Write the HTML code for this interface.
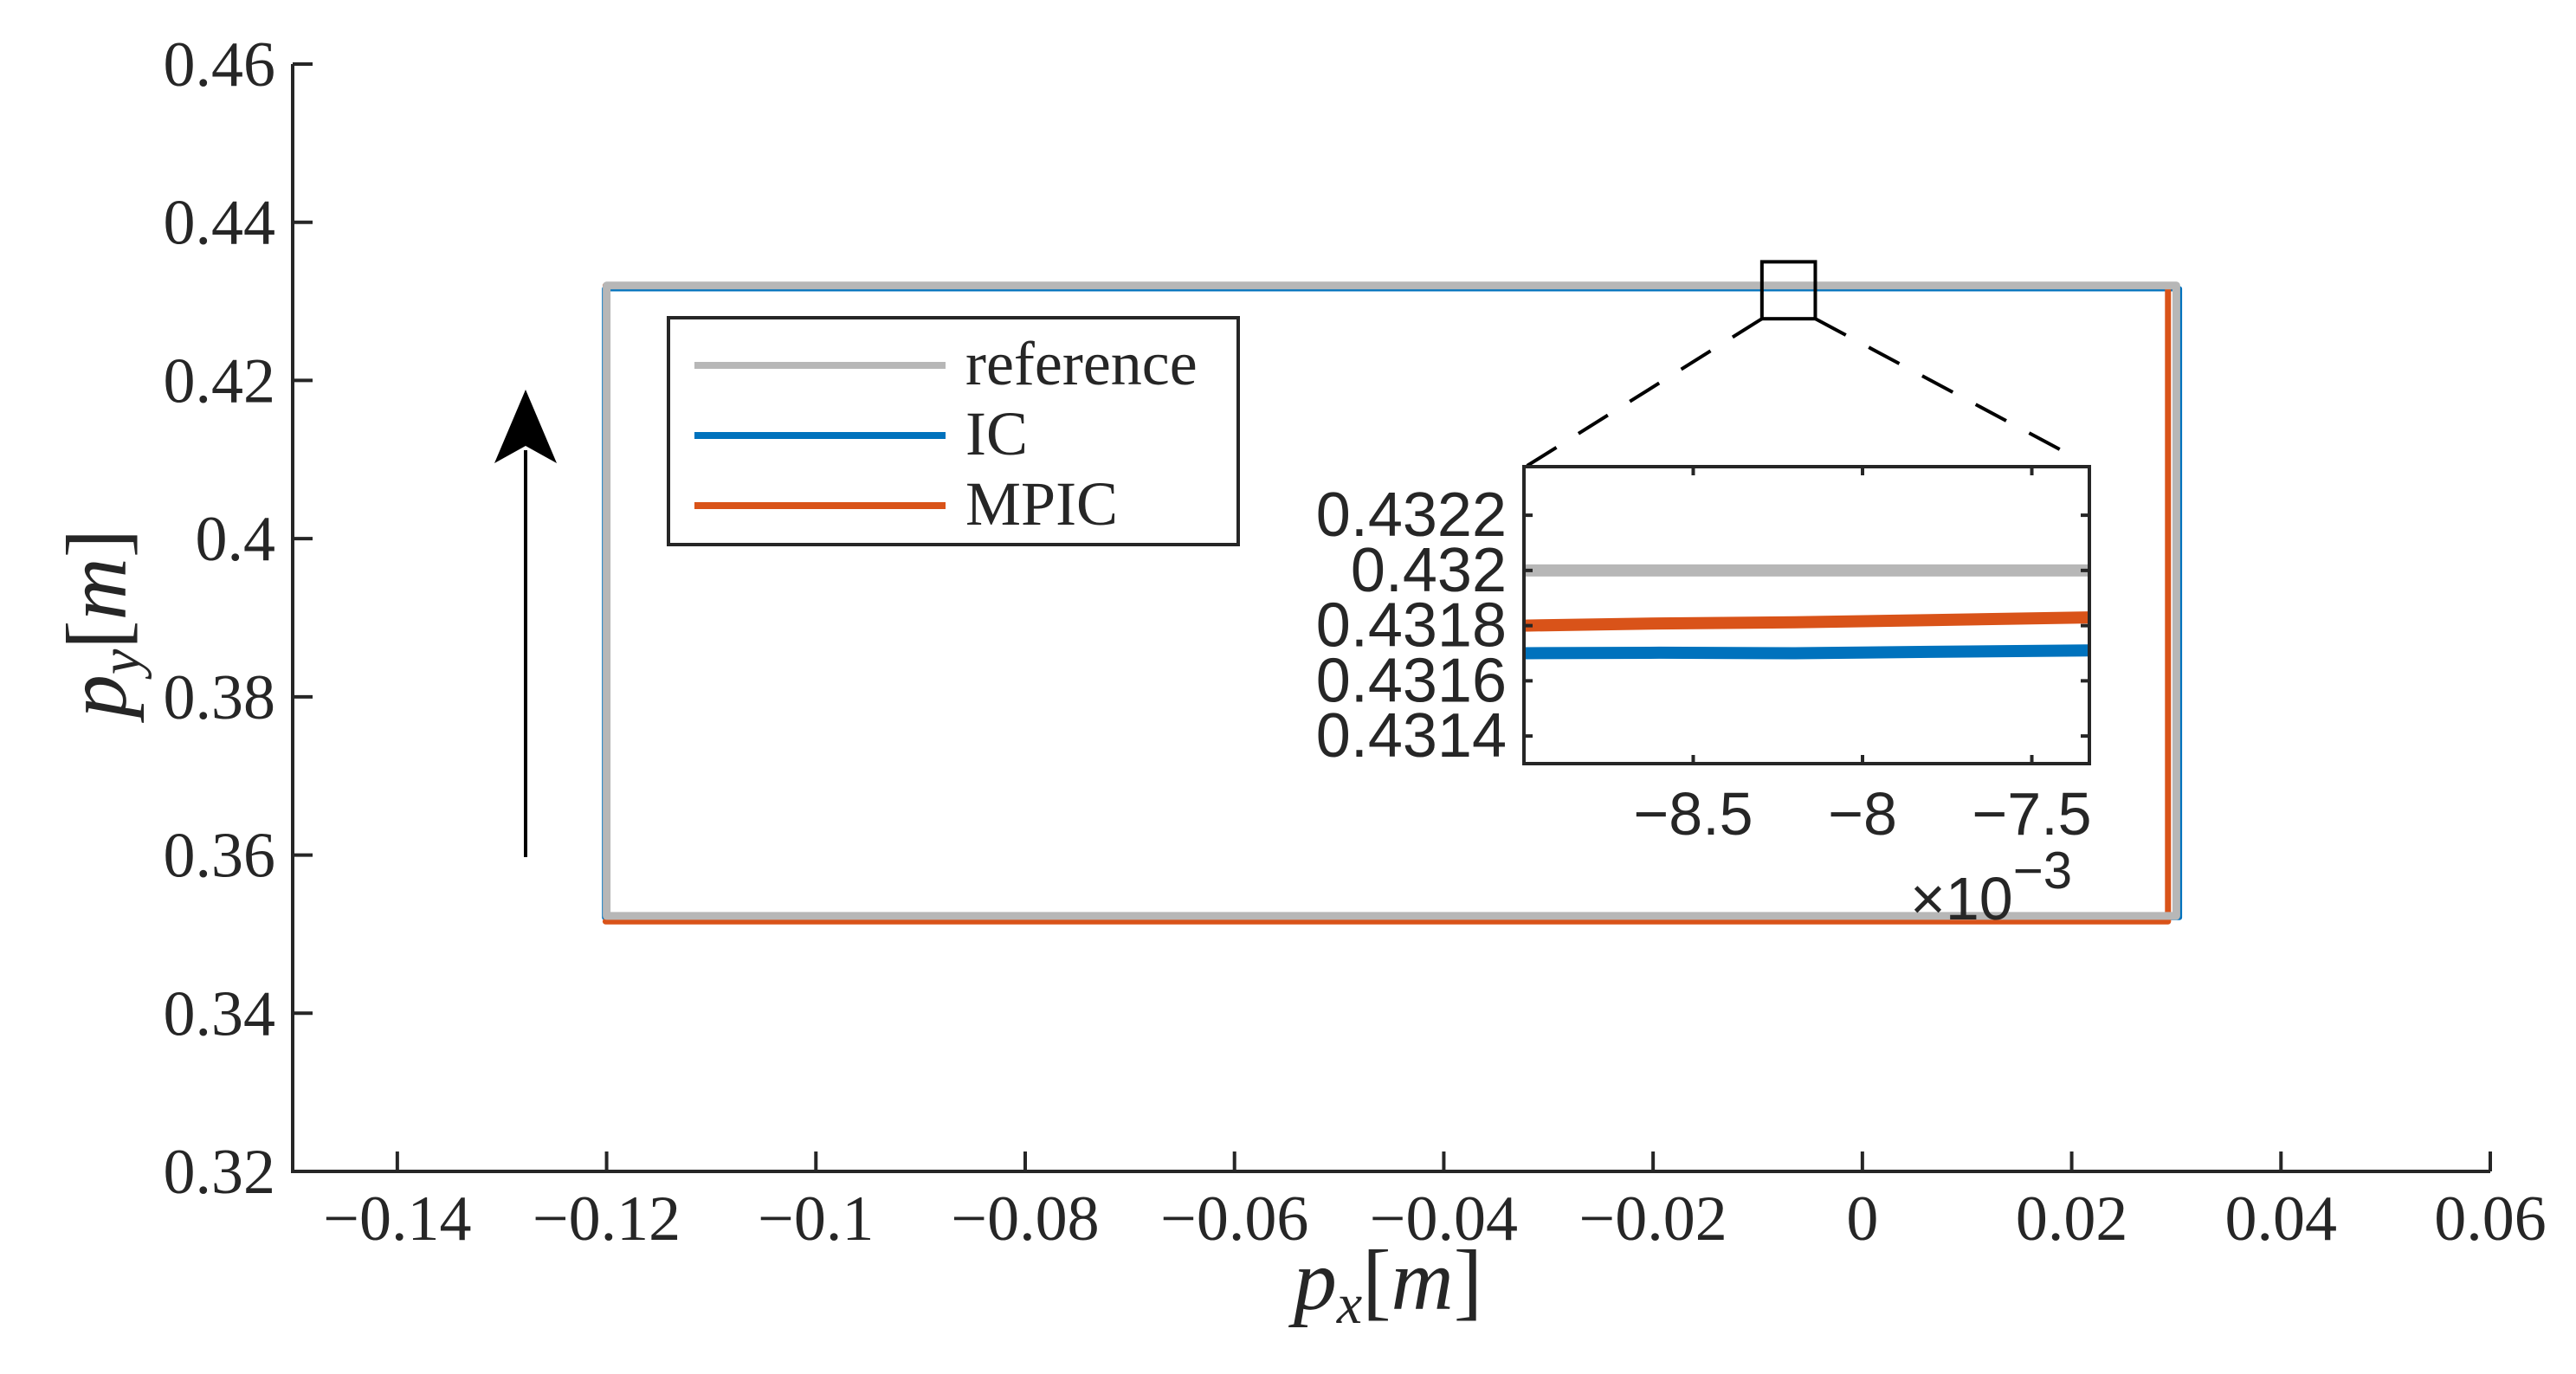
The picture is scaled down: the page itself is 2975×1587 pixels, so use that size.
<!DOCTYPE html>
<html><head><meta charset="utf-8"><style>
html,body{margin:0;padding:0;background:#fff;}
svg{display:block;}
text{fill:#262626;}
</style></head><body>
<svg id="chart" width="2975" height="1587" viewBox="0 0 2975 1587" xmlns="http://www.w3.org/2000/svg">
<defs><clipPath id="insetClip"><rect x="1760" y="539" width="653" height="343"/></clipPath></defs>
<g id="main"></g>
<g id="inset"></g>
</svg>
<script>
// ---- main chart data ----
const xTicks = [-0.14,-0.12,-0.1,-0.08,-0.06,-0.04,-0.02,0,0.02,0.04,0.06];
const xTickLabels = ["\u22120.14","\u22120.12","\u22120.1","\u22120.08","\u22120.06","\u22120.04","\u22120.02","0","0.02","0.04","0.06"];
const yTicks = [0.32,0.34,0.36,0.38,0.40,0.42,0.44,0.46];
const yTickLabels = ["0.32","0.34","0.36","0.38","0.4","0.42","0.44","0.46"];
const refX = [-0.12,-0.12,0.030,0.030,-0.12];
const refY = [0.3523,0.4320,0.4320,0.3523,0.3523];
const icX = [-0.1202,-0.1202,0.0303,0.0303,-0.1202];
const icY = [0.3521,0.4316,0.4316,0.3521,0.3521];
const mpicX = [-0.1201,0.0292,0.0292,-0.1201];
const mpicY = [0.3516,0.3516,0.4320,0.4320];
const zoomBoxX = [-0.0096,-0.0045];
const zoomBoxY = [0.4278,0.4350];
// ---- inset data ----
const insetXTicks = [-8.5,-8,-7.5];
const insetXTickLabels = ["\u22128.5","\u22128","\u22127.5"];
const insetYTicks = [0.4314,0.4316,0.4318,0.4320,0.4322];
const insetYTickLabels = ["0.4314","0.4316","0.4318","0.432","0.4322"];
const insetX = [-9.0,-8.6,-8.2,-7.8,-7.33];
const insetRef = [0.43200,0.43200,0.43200,0.43200,0.43200];
const insetIC = [0.431700,0.431702,0.431700,0.431705,0.431710];
const insetMPIC = [0.431800,0.431808,0.431812,0.431820,0.431830];

const NS="http://www.w3.org/2000/svg";
function mk(tag,attrs,parent,txt){const e=document.createElementNS(NS,tag);for(const k in attrs)e.setAttribute(k,attrs[k]);if(txt!==undefined)e.textContent=txt;parent.appendChild(e);return e;}
const X=v=>338+(v+0.15)*(2538/0.21);
const Y=v=>1353-(v-0.32)*(1279/0.14);
const IX=v=>1760+(v+9.0)*(653/1.67);
const IY=v=>882-(v-0.4313)*(343/0.001076);
const main=document.getElementById('main');
const inset=document.getElementById('inset');
const axc='#262626';

function poly(xs,ys,fx,fy,color,w,name,parent,clip){
  const p=xs.map((x,i)=>fx(x).toFixed(1)+','+fy(ys[i]).toFixed(1)).join(' ');
  const a={points:p,fill:'none',stroke:color,'stroke-width':w,'stroke-linejoin':'round','stroke-linecap':'round'};
  if(clip)a['clip-path']='url(#insetClip)';
  const e=mk('polyline',a,parent);
  
  
}
// axes
let e=mk('path',{d:`M338,${Y(0.46)} L338,1353 L2876,1353`,fill:'none',stroke:axc,'stroke-width':4},main);


xTicks.forEach((t,i)=>{
  const x=X(t);
  const tk=mk('line',{x1:x,x2:x,y1:1353,y2:1330,stroke:axc,'stroke-width':4},main);
  
  
  const l=mk('text',{x:x,y:1432,'text-anchor':'middle','font-family':'Liberation Serif, serif','font-size':74},main,xTickLabels[i]);
  
  
});
yTicks.forEach((t,i)=>{
  const y=Y(t);
  const tk=mk('line',{x1:338,x2:361,y1:y,y2:y,stroke:axc,'stroke-width':4},main);
  
  
  const l=mk('text',{x:318,y:y+25,'text-anchor':'end','font-family':'Liberation Serif, serif','font-size':74},main,yTickLabels[i]);
  
  
});
// series
poly(icX,icY,X,Y,'#0072BD',6,'ic-line',main);
poly(mpicX,mpicY,X,Y,'#D95319',7,'mpic-line',main);
poly(refX,refY,X,Y,'#B7B7B7',9,'reference-line',main);
// arrow
e=mk('line',{x1:607,y1:990,x2:607,y2:520,stroke:'#000','stroke-width':4},main);


e=mk('polygon',{points:'607,450 571,535 607,515 643,535',fill:'#000'},main);


// zoom box + dashed connectors
const bx1=X(zoomBoxX[0]),bx2=X(zoomBoxX[1]),by1=Y(zoomBoxY[1]),by2=Y(zoomBoxY[0]);
e=mk('rect',{x:bx1,y:by1,width:bx2-bx1,height:by2-by1,fill:'none',stroke:'#000','stroke-width':4},main);


e=mk('line',{x1:bx1,y1:by2,x2:1762,y2:539,stroke:'#000','stroke-width':4,'stroke-dasharray':'40,30'},main);


e=mk('line',{x1:bx2,y1:by2,x2:2390,y2:525,stroke:'#000','stroke-width':4,'stroke-dasharray':'40,30'},main);


// axis titles
e=mk('text',{x:1603,y:1512,'text-anchor':'middle','font-family':'Liberation Serif, serif','font-size':100},main);
e.innerHTML='<tspan font-style="italic">p</tspan><tspan font-style="italic" font-size="66" dy="16">x</tspan><tspan dy="-16">[</tspan><tspan font-style="italic">m</tspan><tspan>]</tspan>';


e=mk('text',{x:0,y:0,'text-anchor':'middle','font-family':'Liberation Serif, serif','font-size':100,transform:'translate(145,720) rotate(-90)'},main);
e.innerHTML='<tspan font-style="italic">p</tspan><tspan font-style="italic" font-size="66" dy="16">y</tspan><tspan dy="-16">[</tspan><tspan font-style="italic">m</tspan><tspan>]</tspan>';


// legend
const lg=mk('g',{},main);


mk('rect',{x:772,y:367,width:658,height:262,fill:'#fff',stroke:'#262626','stroke-width':4},lg);
const legNames=['reference','IC','MPIC'];
const legColors=['#B7B7B7','#0072BD','#D95319'];
legNames.forEach((n,i)=>{
  const y=422+i*81;
  const g=mk('g',{},lg);
  
  
  mk('line',{x1:802,x2:1092,y1:y,y2:y,stroke:legColors[i],'stroke-width':8},g);
  mk('text',{x:1115,y:y+22,'font-family':'Liberation Serif, serif','font-size':72},g,n);
});
// inset
mk('rect',{x:1760,y:539,width:653,height:343,fill:'#fff'},inset);
poly(insetX,insetRef,IX,IY,'#B7B7B7',14,'inset-reference-line',inset,true);
poly(insetX,insetMPIC,IX,IY,'#D95319',14,'inset-mpic-line',inset,true);
poly(insetX,insetIC,IX,IY,'#0072BD',14,'inset-ic-line',inset,true);
e=mk('rect',{x:1760,y:539,width:653,height:343,fill:'none',stroke:axc,'stroke-width':4},inset);


insetXTicks.forEach((t,i)=>{
  const x=IX(t);
  mk('line',{x1:x,x2:x,y1:882,y2:872,stroke:axc,'stroke-width':4},inset);
  mk('line',{x1:x,x2:x,y1:539,y2:549,stroke:axc,'stroke-width':4},inset);
  const l=mk('text',{x:x,y:964,'text-anchor':'middle','font-family':'Liberation Sans, sans-serif','font-size':70},inset,insetXTickLabels[i]);
  
  
});
insetYTicks.forEach((t,i)=>{
  const y=IY(t);
  mk('line',{x1:1760,x2:1770,y1:y,y2:y,stroke:axc,'stroke-width':4},inset);
  mk('line',{x1:2413,x2:2403,y1:y,y2:y,stroke:axc,'stroke-width':4},inset);
  const l=mk('text',{x:1740,y:y+24,'text-anchor':'end','font-family':'Liberation Sans, sans-serif','font-size':72},inset,insetYTickLabels[i]);
  
  
});
e=mk('text',{x:2206,y:1062,'font-family':'Liberation Sans, sans-serif','font-size':70},inset);
e.innerHTML='\u00d710<tspan font-size="60" dy="-36">\u22123</tspan>';


</script>
</body></html>
